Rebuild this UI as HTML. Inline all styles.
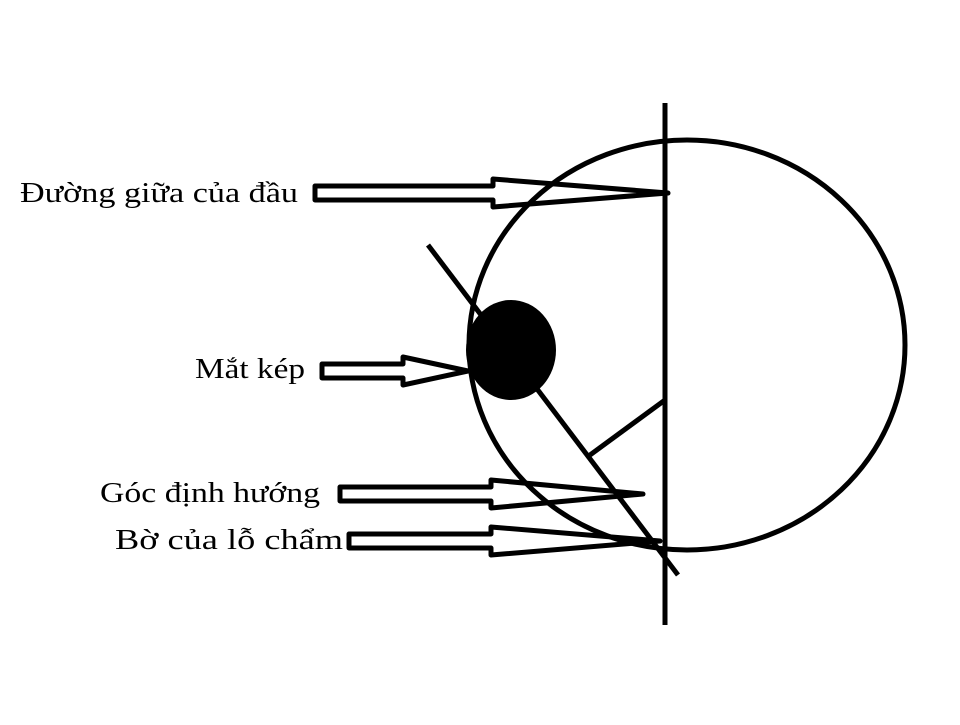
<!DOCTYPE html>
<html><head><meta charset="utf-8"><style>
body{margin:0;background:#fff}
text{font-family:"Liberation Serif",serif;font-size:29px;fill:#000}
</style></head><body>
<svg width="960" height="720" viewBox="0 0 960 720" xmlns="http://www.w3.org/2000/svg">
<g fill="none" stroke="#000" stroke-width="5" stroke-linejoin="round">
<ellipse cx="687" cy="345" rx="218" ry="205"/>
<line x1="665" y1="103" x2="665" y2="625"/>
<line x1="428" y1="245" x2="678" y2="575"/>
<line x1="590" y1="455" x2="665" y2="400"/>
<path d="M315 186 H493 V179 L668 193 L493 207 V200 H315 Z"/>
<path d="M322 364 H403 V357 L468 371 L403 385 V378 H322 Z"/>
<path d="M340 487 H491 V480 L643 494 L491 508 V501 H340 Z"/>
<path d="M349 534 H491 V527 L660 541 L491 555 V548 H349 Z"/>
</g>
<ellipse cx="511" cy="350" rx="45" ry="50" fill="#000"/>
<text x="20" y="202" textLength="278" lengthAdjust="spacingAndGlyphs">Đường giữa của đầu</text>
<text x="195" y="378" textLength="110" lengthAdjust="spacingAndGlyphs">Mắt kép</text>
<text x="100" y="502" textLength="220" lengthAdjust="spacingAndGlyphs">Góc định hướng</text>
<text x="115" y="549" textLength="228" lengthAdjust="spacingAndGlyphs">Bờ của lỗ chẩm</text>
</svg>
</body></html>
